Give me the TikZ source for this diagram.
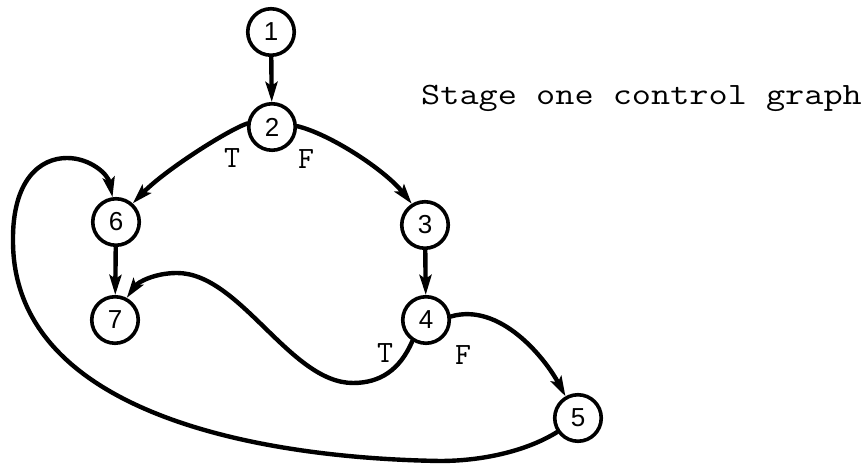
\documentclass[tikz,border=0pt]{standalone}
\usepackage{fontspec}
\setmainfont{Liberation Sans}
\usetikzlibrary{arrows.meta}
\begin{document}
\begin{tikzpicture}[x=1pt,y=1pt,
  state/.style={circle,draw,line width=3.6pt,minimum size=46.5pt,inner sep=0pt,
    font=\fontsize{26}{26}\selectfont},
  flow/.style={line width=4.4pt,line cap=round,
    -{Stealth[length=20pt,width=12pt,inset=4pt]}},
  branch/.style={font=\ttfamily\fontsize{31}{31}\selectfont},
  caption/.style={font=\ttfamily\fontsize{31}{31}\selectfont,
    xscale=1.2,transform shape}]
\useasboundingbox (0,0) rectangle (868,470);

% statements of the graph
\node[state] (n1) at (271,438) {1};
\node[state] (n2) at (272,343) {2};
\node[state] (n6) at (116,248) {6};
\node[state] (n3) at (425,245) {3};
\node[state] (n7) at (115,150) {7};
\node[state] (n4) at (426,150) {4};
\node[state] (n5) at (578,52)  {5};

\node[caption,anchor=base west] (title) at (417,365) {Stage one control graph};

% branch labels
\node[branch] (t2) at (232,312) {T};
\node[branch] (f2) at (306,311) {F};
\node[branch] (t4) at (385,117) {T};
\node[branch] (f4) at (463,115) {F};

% straight edges
\draw[flow] (n1) -- (n2);
\draw[flow] (n6) -- (n7);
\draw[flow] (n3) -- (n4);

% branches of node 2
\draw[flow] (n2.172) .. controls (228,340) and (165,300) .. (n6.48);
\draw[flow] (n2.2) .. controls (330,336) and (385,300) .. (n3.122);

% branches of node 4
\draw[flow] (n4.8) .. controls (500,168) and (545,112) .. (n5.120);
\draw[flow] (n4.237) .. controls (400,100) and (380,87) .. (353,87)
  .. controls (290,87) and (240,197) .. (177,197)
  .. controls (155,197) and (138,188) .. (n7.62);

% loop back from node 5 to node 6
\draw[flow] (n5.214) .. controls (525,18) and (480,9) .. (440,9)
  .. controls (250,12) and (14,60) .. (13,228)
  .. controls (12,290) and (40,312) .. (67,312)
  .. controls (90,312) and (108,296) .. (n6.98);
\end{tikzpicture}
\end{document}
